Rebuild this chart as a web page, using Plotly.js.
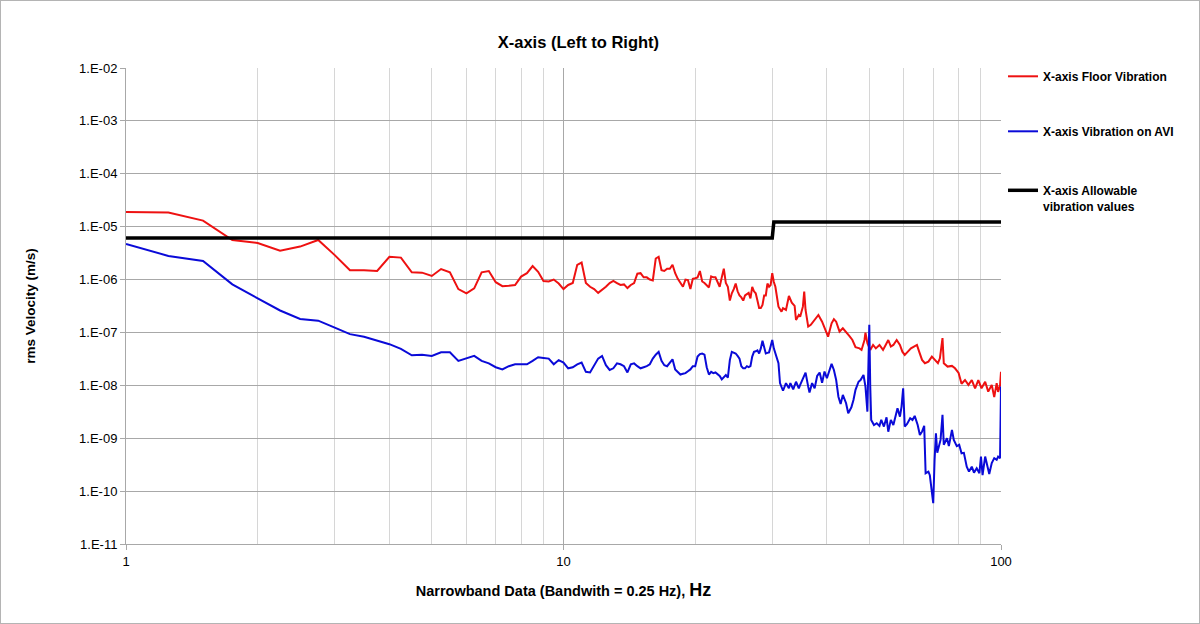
<!DOCTYPE html>
<html>
<head>
<meta charset="utf-8">
<script src="https://cdn.plot.ly/plotly-3.0.1.min.js"></script>
<style>
  html, body { margin: 0; padding: 0; background: #fff; }
  #wrap { position: relative; width: 1200px; height: 624px; }
  #chart { width: 1200px; height: 624px; }
  #frame { position: absolute; left: 0; top: 0; width: 1200px; height: 624px; box-sizing: border-box; border: 1px solid #b4b4b4; pointer-events: none; }
</style>
</head>
<body>
<div id="wrap"><div id="chart"></div><div id="frame"></div></div>
<script>
// ---- Data ----
const floorFreq = [
  1,1.25,1.5,1.75, 2,2.25,2.5,2.75, 3,3.25,3.5,3.75, 4,4.25,4.5,4.75, 5,5.25,5.5,5.75,
  6,6.25,6.5,6.75, 7,7.25,7.5,7.75, 8,8.25,8.5,8.75, 9,9.25,9.5,9.75, 10,10.25,10.5,10.75,
  11,11.25,11.5,11.75, 12,12.25,12.5,12.75, 13,13.25,13.5,13.75, 14,14.25,14.5,14.75, 15,15.25,15.5,15.75,
  16,16.25,16.5,16.75, 17,17.25,17.5,17.75, 18,18.25,18.5,18.75, 19,19.25,19.5,19.75, 20,20.25,20.5,20.75,
  21,21.25,21.5,21.75, 22,22.25,22.5,22.75, 23,23.25,23.5,23.75, 24,24.25,24.5,24.75, 25,25.25,25.5,25.75,
  26,26.25,26.5,26.75, 27,27.25,27.5,27.75, 28,28.25,28.5,28.75, 29,29.25,29.5,29.75, 30,30.25,30.5,
  31,31.5,31.75,32.25,32.75, 33.25,33.75,34,34.5,34.75, 35.25,35.5,35.75,36.25,36.75, 37.25,37.75,38.25,39,39.5,
  40.25,41,41.5,42,42.75, 43.5,44.25,45,45.75,46.5, 47.5,48,48.75,49,49.5, 50.25,51,51.75,52.75,53.75,
  54.5,55.25,56,56.75,57.75, 58.75,59.5,60.25,61.25,62.25, 63.25,64.25,65,66,67, 68.25,69.5,70.75,71.75,72.5,
  73.5,74,75.5,77.25,78.5, 80,81.25,82.75,84.25,85.75, 87.25,88.75,90.25,92,93.5, 95.25,96.5,97.75,98.5,99.5,
  100
];
const floorVel = [
  1.9e-5,1.85e-5,1.3e-5,5.6e-6, 4.9e-6,3.5e-6,4.2e-6,5.6e-6, 2.9e-6,1.5e-6,1.5e-6,1.45e-6, 2.7e-6,2.6e-6,1.37e-6,1.35e-6, 1.17e-6,1.58e-6,1.37e-6,6.6e-7,
  5.5e-7,6.8e-7,1.37e-6,1.45e-6, 8.9e-7,7.5e-7,7.6e-7,7.9e-7, 1.14e-6,1.32e-6,1.8e-6,1.4e-6, 9.4e-7,9.2e-7,1.0e-6,8.4e-7, 6.6e-7,7.9e-7,8.6e-7,1.9e-6,
  2.1e-6,8.6e-7,7.3e-7,6.6e-7, 5.6e-7,6.3e-7,7.3e-7,8.6e-7, 9.4e-7,8.6e-7,7.9e-7,8.1e-7, 6.9e-7,7.9e-7,8.6e-7,1.29e-6, 1.32e-6,1.1e-6,1.1e-6,1.0e-6,
  9.6e-7,2.5e-6,2.7e-6,1.5e-6, 1.45e-6,1.6e-6,1.6e-6,1.9e-6, 1.32e-6,1.03e-6,8.6e-7,7.3e-7, 1.0e-6,9.8e-7,6.6e-7,1.03e-6, 1.06e-6,1.1e-6,1.45e-6,9.2e-7,
  8.6e-7,7.9e-7,7.1e-7,1.15e-6, 1.1e-6,1.1e-6,8.6e-7,7.3e-7, 1.1e-6,1.6e-6,8.6e-7,7.3e-7, 4.0e-7,5.5e-7,6.6e-7,8.4e-7, 6.0e-7,5.0e-7,4.6e-7,4.0e-7,
  5.0e-7,5.3e-7,5.6e-7,4.4e-7, 7.3e-7,6.0e-7,5.5e-7,4.0e-7, 2.9e-7,2.9e-7,3.3e-7,5.0e-7, 5.0e-7,8.4e-7,7.3e-7,7.9e-7, 1.32e-6,9.0e-7,7.3e-7,
  3.07e-7,2.47e-7,2.87e-7,2.66e-7,4.9e-7, 3.66e-7,3.17e-7,1.72e-7,2.14e-7,1.99e-7, 3.07e-7,5.9e-7,2.66e-7,1.29e-7,1.39e-7, 1.6e-7,1.86e-7,2.14e-7,1.6e-7,1.2e-7,
  8.3e-8,1.49e-7,1.78e-7,1.6e-7,1.04e-7, 1.2e-7,9.9e-8,8.6e-8,7.2e-8,5.25e-8, 5.0e-8,4.67e-8,7.2e-8,9.9e-8,6.25e-8, 4.67e-8,5.8e-8,5.0e-8,5.8e-8,4.67e-8,
  5.8e-8,7.2e-8,5.4e-8,5.8e-8,7.2e-8, 5.8e-8,4.33e-8,3.76e-8,4.33e-8,5.0e-8, 5.4e-8,5.8e-8,4.33e-8,3.02e-8,2.62e-8, 2.8e-8,3.49e-8,3.02e-8,2.62e-8,3.25e-8,
  7.8e-8,2.62e-8,2.26e-8,2.33e-8,2.1e-8, 1.72e-8,1.07e-8,1.26e-8,1.02e-8,1.26e-8, 8.8e-9,1.26e-8,8.8e-9,1.17e-8,7.6e-9, 1.02e-8,6.0e-9,1.1e-8,7.5e-9,1.0e-8,
  1.8e-8
];

const aviFreq = [
  1,1.25,1.5,1.75, 2,2.25,2.5,2.75, 3,3.25,3.5,3.75, 4,4.25,4.5,4.75, 5,5.25,5.5,5.75,
  6,6.25,6.5,6.75, 7,7.25,7.5,7.75, 8,8.25,8.5,8.75, 9,9.25,9.5,9.75, 10,10.25,10.5,10.75,
  11,11.25,11.5,11.75, 12,12.25,12.5,12.75, 13,13.25,13.5,13.75, 14,14.25,14.5,14.75, 15,15.25,15.5,15.75,
  16,16.25,16.5,16.75, 17,17.25,17.5,17.75, 18,18.25,18.5,18.75, 19,19.25,19.5,19.75, 20,20.25,20.5,20.75,
  21,21.25,21.5,21.75, 22,22.25,22.5,22.75, 23,23.25,23.5,23.75, 24,24.25,24.5,24.75, 25,25.25,25.5,25.75,
  26,26.25,26.5,26.75, 27,27.25,27.5,27.75, 28,28.25,28.5,28.75, 29,29.25,29.5,29.75, 30,30.25,30.5,
  31,31.25,31.75,32.25,32.75, 33,33.5,34,34.5,34.75, 35.25,35.75,36.25,36.5,37, 37.5,38,38.5,39,39.5,
  40,40.5,41,41.5,42, 42.5,43,43.5,44.25,44.75, 45.5,46,46.5,47.25,47.75, 48.5,49,49.5,50,50.25,
  50.5,51.25,52,52.75,53.25, 54,54.75,55.25,56,56.75, 57.5,58,58.75,59.25,59.75, 60.25,61,62,62.75,63.5,
  64.5,65.25,66,66.75,67.25, 68.25,68.75,69.5,70,70.5, 71,71.5,72.25,72.75,73.5, 74,75.25,76,77.25,78,
  79.25,80.25,81.25,82.25,83.5, 84.5,85.75,86.75,88,89.25, 90,90.75,92,93,94, 95.25,96.5,97.75,98.5,99.5,
  100
];
const aviVel = [
  4.7e-6,2.8e-6,2.25e-6,8.1e-7, 4.4e-7,2.6e-7,1.8e-7,1.67e-7, 1.23e-7,9.3e-8,8.3e-8,7.1e-8, 6.0e-8,4.9e-8,3.7e-8,3.8e-8, 3.6e-8,4.2e-8,4.2e-8,2.9e-8,
  3.2e-8,3.6e-8,2.9e-8,2.6e-8, 2.2e-8,2.0e-8,2.3e-8,2.5e-8, 2.5e-8,2.5e-8,2.9e-8,3.4e-8, 3.3e-8,3.2e-8,2.5e-8,3.0e-8, 2.7e-8,2.1e-8,2.2e-8,2.5e-8,
  2.7e-8,1.8e-8,1.75e-8,2.4e-8, 3.2e-8,3.6e-8,2.4e-8,1.95e-8, 2.1e-8,2.6e-8,2.5e-8,2.3e-8, 1.75e-8,2.5e-8,2.6e-8,2.3e-8, 2.1e-8,2.2e-8,2.3e-8,2.5e-8,
  3.2e-8,3.8e-8,4.3e-8,2.9e-8, 2.4e-8,2.3e-8,2.7e-8,3.1e-8, 2.0e-8,1.8e-8,1.6e-8,1.65e-8, 1.7e-8,1.85e-8,2.0e-8,2.3e-8, 2.3e-8,3.5e-8,3.9e-8,4.0e-8,
  3.8e-8,2.2e-8,1.6e-8,1.8e-8, 1.7e-8,1.75e-8,1.6e-8,1.5e-8, 1.3e-8,1.45e-8,1.57e-8,1.4e-8, 3.0e-8,4.3e-8,4.2e-8,4.0e-8, 3.6e-8,3.2e-8,2.3e-8,2.1e-8,
  2.1e-8,2.3e-8,2.2e-8,2.3e-8, 3.5e-8,4.3e-8,4.4e-8,4.6e-8, 4.0e-8,5.0e-8,7.0e-8,5.0e-8, 4.0e-8,4.1e-8,4.2e-8,5.5e-8, 7.2e-8,5.0e-8,4.0e-8,
  2.62e-8,1.1e-8,7.9e-9,1.1e-8,8.8e-9, 1.1e-8,8.4e-9,1.17e-8,8.8e-9,1.02e-8, 1.36e-8,1.74e-8,9.45e-9,7.3e-9,1.1e-8, 8.8e-9,1.5e-8,1.74e-8,1.12e-8,1.82e-8,
  1.36e-8,1.95e-8,2.54e-8,1.95e-8,1.26e-8, 6.1e-9,4.45e-9,6.6e-9,4.6e-9,2.97e-9, 3.85e-9,5.3e-9,8.2e-9,1.17e-8,1.26e-8, 1.57e-8,9.45e-9,3.18e-9,1.39e-7,9.45e-9,
  2.22e-9,1.78e-9,1.92e-9,1.71e-9,2.22e-9, 1.66e-9,2.49e-9,1.33e-9,2.22e-9,1.78e-9, 2.97e-9,3.69e-9,2.56e-9,3.96e-9,8.8e-9, 1.66e-9,1.86e-9,2.39e-9,2.22e-9,2.64e-9,
  1.78e-9,1.15e-9,1.33e-9,1.71e-9,2.18e-10, 2.34e-10,2.0e-10,1.05e-10,5.9e-11,3.9e-10, 1.24e-9,5.3e-10,7.5e-10,9.3e-10,2.76e-9, 7.5e-10,1.0e-9,7.1e-10,1.44e-9,9.3e-10,
  7.1e-10,7.5e-10,5.2e-10,5.3e-10,2.9e-10, 2.34e-10,2.9e-10,2.24e-10,2.7e-10,2.18e-10, 4.5e-10,2.0e-10,4.5e-10,3.1e-10,2.1e-10, 3.4e-10,4.2e-10,3.9e-10,4.5e-10,4.2e-10,
  9.5e-9
];

const allowFreq = [1, 30, 30.25, 100];
const allowVel  = [6.1e-6, 6.1e-6, 1.22e-5, 1.22e-5];

const seriesNames = ['X-axis Floor Vibration', 'X-axis Vibration on AVI', 'X-axis Allowable<br>vibration values'];
const yTickVals = [1e-11, 1e-10, 1e-9, 1e-8, 1e-7, 1e-6, 1e-5, 1e-4, 1e-3, 1e-2];
const yTickText = ['1.E-11', '1.E-10', '1.E-09', '1.E-08', '1.E-07', '1.E-06', '1.E-05', '1.E-04', '1.E-03', '1.E-02'];
const xTickVals = [1, 10, 100];
const xTickText = ['1', '10', '100'];
const xMinorVals = [2, 3, 4, 5, 6, 7, 8, 9, 20, 30, 40, 50, 60, 70, 80, 90];

// ---- Chart ----
const FONT = 'Liberation Sans, Arial, Helvetica, sans-serif';
const legendFont = { family: FONT, size: 12, weight: 'bold', color: '#000' };

const traces = [
  { x: floorFreq, y: floorVel, name: seriesNames[0], type: 'scatter', mode: 'lines',
    line: { color: '#ee1111', width: 2 }, legendgroup: 'g1', legend: 'legend' },
  { x: aviFreq, y: aviVel, name: seriesNames[1], type: 'scatter', mode: 'lines',
    line: { color: '#0a0ad8', width: 2 }, legendgroup: 'g2', legend: 'legend' },
  { x: allowFreq, y: allowVel, name: seriesNames[2], type: 'scatter', mode: 'lines',
    line: { color: '#000000', width: 3.5 }, legendgroup: 'g3', legend: 'legend2' }
];

const layout = {
  width: 1200, height: 624,
  paper_bgcolor: '#ffffff', plot_bgcolor: '#ffffff',
  margin: { l: 126, r: 199, t: 68, b: 80 },
  font: { family: FONT, color: '#000000', size: 13 },
  title: {
    text: 'X-axis (Left to Right)',
    font: { family: FONT, size: 16.5, weight: 'bold', color: '#000' },
    xref: 'paper', x: 0.517, xanchor: 'center',
    yref: 'container', y: 1 - 42 / 624, yanchor: 'middle'
  },
  xaxis: {
    type: 'log', range: [0, 2],
    tickmode: 'array', tickvals: xTickVals, ticktext: xTickText,
    tickfont: { size: 13, color: '#000' },
    showgrid: true, gridcolor: '#a8a8a8', gridwidth: 1,
    minor: { tickmode: 'array', tickvals: xMinorVals, showgrid: true, gridcolor: '#d6d6d6', gridwidth: 1, ticks: '' },
    showline: true, linecolor: '#a8a8a8', linewidth: 1, mirror: false,
    ticks: 'outside', ticklen: 5, tickcolor: '#a8a8a8',
    zeroline: false,
    title: {
      text: 'Narrowband Data (Bandwith = 0.25 Hz), <span style="font-size:18px">Hz</span>',
      font: { family: FONT, size: 14.5, weight: 'bold', color: '#000' },
      standoff: 18
    }
  },
  yaxis: {
    type: 'log', range: [-11, -2],
    tickmode: 'array', tickvals: yTickVals, ticktext: yTickText,
    tickfont: { size: 13, color: '#000' },
    showgrid: true, gridcolor: '#a8a8a8', gridwidth: 1,
    showline: true, linecolor: '#a8a8a8', linewidth: 1,
    ticks: 'outside', ticklen: 5, tickcolor: '#a8a8a8',
    zeroline: false,
    title: {
      text: 'rms Velocity (m/s)',
      font: { family: FONT, size: 13.5, weight: 'bold', color: '#000' },
      standoff: 40
    }
  },
  showlegend: true,
  legend: {
    x: 1.0023, xanchor: 'left', y: 1.0126, yanchor: 'top',
    traceorder: 'grouped', tracegroupgap: 36, valign: 'top',
    font: legendFont, bgcolor: 'rgba(0,0,0,0)', borderwidth: 0
  },
  legend2: {
    x: 1.0023, xanchor: 'left', y: 0.7731, yanchor: 'top',
    valign: 'top',
    font: legendFont, bgcolor: 'rgba(0,0,0,0)', borderwidth: 0
  }
};

Plotly.newPlot('chart', traces, layout, { displayModeBar: false, staticPlot: true });
</script>
</body>
</html>
